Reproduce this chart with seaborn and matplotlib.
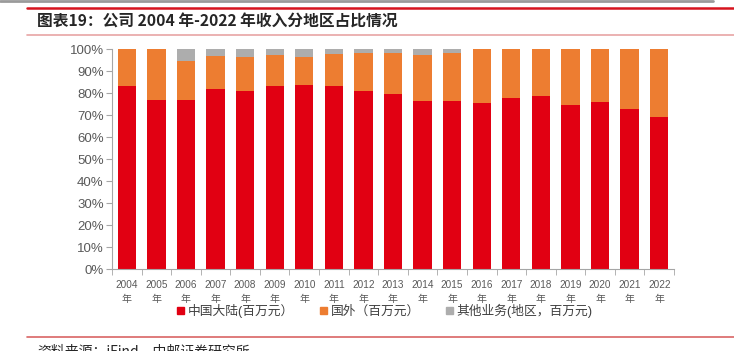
import numpy as np
import pandas as pd
import seaborn as sns
import matplotlib.pyplot as plt
from matplotlib.lines import Line2D
from matplotlib.patches import Patch
from matplotlib.ticker import FixedLocator

# data (shares in %)
years = [str(y) for y in range(2004, 2023)]
mainland = [83.5, 77.1, 77.1, 82.0, 81.2, 83.5, 83.9, 83.5, 80.9, 79.7,
            76.7, 76.7, 75.5, 77.9, 78.6, 74.5, 75.9, 73.0, 69.4]
overseas = [16.5, 22.9, 17.7, 14.8, 15.5, 14.1, 12.8, 14.2, 17.3, 18.5,
            20.9, 21.5, 24.5, 22.1, 21.4, 25.5, 24.1, 27.0, 30.6]
other = [0.0, 0.0, 5.2, 3.2, 3.3, 2.4, 3.3, 2.3, 1.8, 1.8,
         2.4, 1.8, 0.0, 0.0, 0.0, 0.0, 0.0, 0.0, 0.0]
labels = ['中国大陆(百万元）', '国外（百万元）', '其他业务(地区，百万元)']
colors = ['#E10012', '#ED7D31', '#ADADAD']

df = pd.DataFrame({'year': years, 'mainland': mainland,
                   'overseas': overseas, 'other': other})
df['top2'] = df['mainland'] + df['overseas']
df['top3'] = df['top2'] + df['other']

sns.set_style('white')
plt.rcParams['font.family'] = ['Liberation Sans', 'Noto Sans CJK SC', 'DejaVu Sans']

fig = plt.figure(figsize=(7.34, 3.51), dpi=100)
ax = fig.add_axes([112/734, 1 - 269.3/351, 562/734, 220/351])

# stacked bars: draw cumulative totals back to front
sns.barplot(data=df, x='year', y='top3', color=colors[2], width=0.62,
            saturation=1, ax=ax)
sns.barplot(data=df, x='year', y='top2', color=colors[1], width=0.62,
            saturation=1, ax=ax)
sns.barplot(data=df, x='year', y='mainland', color=colors[0], width=0.62,
            saturation=1, ax=ax)
for p in ax.patches:
    p.set_edgecolor('none')

ax.set_xlim(-0.5, len(years) - 0.5)
ax.set_ylim(0, 100)
ax.set_yticks(np.arange(0, 101, 10))
ax.set_yticklabels(['%d%%' % v for v in range(0, 101, 10)], fontsize=9.5, color='#595959')
ax.set_xticks(range(len(years)))
ax.set_xticklabels([y + '\n年' for y in years], fontsize=7.2, color='#595959',
                   linespacing=1.5)
ax.xaxis.set_minor_locator(FixedLocator(np.arange(-0.5, len(years), 1)))
ax.tick_params(axis='x', which='major', length=0, pad=8)
ax.tick_params(axis='x', which='minor', length=4, color='#A6A6A6', direction='out', bottom=True)
ax.tick_params(axis='y', length=4, color='#A6A6A6', direction='out', left=True, pad=2)
ax.set_xlabel('')
ax.set_ylabel('')
for s in ['top', 'right']:
    ax.spines[s].set_visible(False)
for s in ['left', 'bottom']:
    ax.spines[s].set_color('#A6A6A6')
    ax.spines[s].set_linewidth(0.8)

handles = [Patch(color=c) for c in colors]
fig.legend(handles, labels, loc='center', bbox_to_anchor=(385/734, 1 - 311/351),
           ncol=3, frameon=False, fontsize=9.2, handlelength=0.55, handleheight=0.55,
           handletextpad=0.3, columnspacing=2.0, labelcolor='#404040')

# title and decorative rules
fig.add_artist(Line2D([0, 713/734], [1 - 0.8/351] * 2, color='#9A9A9A', lw=2))
fig.add_artist(Line2D([27/734, 1], [1 - 7.5/351] * 2, color='#D7141E', lw=1.8))
fig.add_artist(Line2D([27/734, 1], [1 - 35/351] * 2, color='#E8A4A4', lw=1.2))
fig.add_artist(Line2D([27/734, 1], [1 - 336.7/351] * 2, color='#D96565', lw=1.2))
fig.text(37/734, 1 - 22/351, '图表19：公司 2004 年-2022 年收入分地区占比情况',
         fontsize=11.3, fontweight='bold', va='center', ha='left',
         family=['Noto Sans CJK SC', 'DejaVu Sans'])
fig.text(37/734, 1 - 344/351, '资料来源：iFind，中邮证券研究所', fontsize=10,
         va='top', ha='left', family=['Noto Sans CJK SC', 'DejaVu Sans'])

fig.savefig('out.png', dpi=100)
